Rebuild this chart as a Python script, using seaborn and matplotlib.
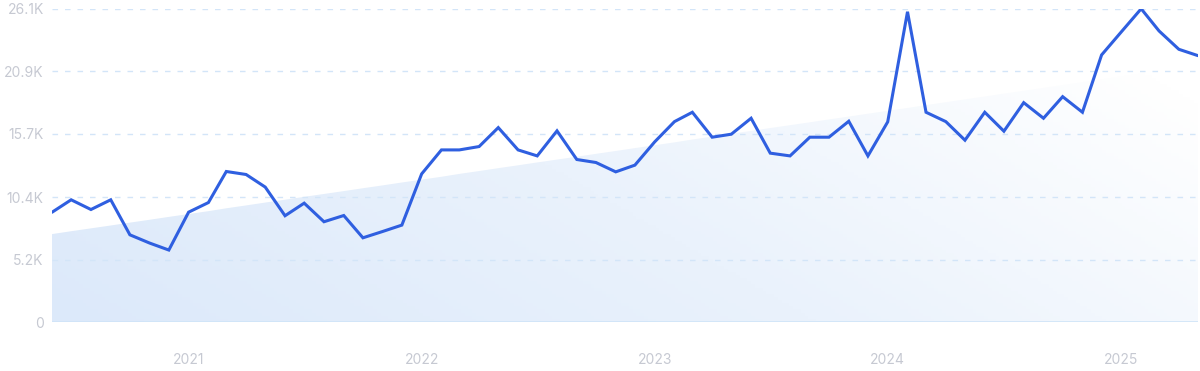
import matplotlib
matplotlib.use("Agg")
import matplotlib.dates as mdates
import matplotlib.pyplot as plt
import numpy as np
import pandas as pd
import seaborn as sns
from matplotlib.colors import LinearSegmentedColormap
from matplotlib.ticker import FixedLocator

# ── Data (monthly, Jun 2020 - May 2025) ───────────────────────────────────────
START_MONTH = "2020-06-01"
volume = [
    9150, 10190, 9380, 10190, 7270, 6580, 6000, 9160, 9960, 12550,
    12300, 11250, 8860, 9910, 8360, 8880, 7020, 7550, 8080, 12350,
    14350, 14350, 14630, 16210, 14350, 13850, 15940, 13550, 13300, 12520,
    13080, 15020, 16710, 17490, 15410, 15660, 16990, 14080, 13850, 15410,
    15410, 16740, 13850, 16690, 25870, 17490, 16710, 15160, 17490, 15910,
    18290, 16990, 18790, 17490, 22270, 24200, 26120, 24270, 22740, 22210,
]
trend_start = 7330
trend_end = 21430

y_ticks = [0, 5200, 10400, 15700, 20900, 26100]
y_labels = ["0", "5.2K", "10.4K", "15.7K", "20.9K", "26.1K"]
year_ticks = ["2021", "2022", "2023", "2024", "2025"]

LINE_COLOR = "#2f5fe0"
LABEL_COLOR = "#c6c9d2"
GRID_COLOR = "#d3e5f8"

dates = pd.date_range(START_MONTH, periods=len(volume), freq="MS")
df = pd.DataFrame({"date": dates, "volume": volume})
trend = np.linspace(trend_start, trend_end, len(volume))

sns.set_theme(style="white")
plt.rcParams["font.family"] = ["Inter", "DejaVu Sans"]

fig = plt.figure(figsize=(12, 3.71), dpi=100)
ax = fig.add_axes([52 / 1200, 1 - 322 / 371, 1146 / 1200, 313 / 371])

# ── Gradient trend area ───────────────────────────────────────────────────────
x_num = mdates.date2num(dates)
poly = ax.fill_between(x_num, 0, trend, color="none", lw=0)
cmap = LinearSegmentedColormap.from_list("fade", ["#dce9fa", "#eaf2fc", "#ffffff"])
gx, gy = np.meshgrid(np.linspace(0, 1, 300), np.linspace(0, 1, 100))
grad = 0.75 * gx + 0.35 * (1 - gy)
img = ax.imshow(
    grad, cmap=cmap, vmin=0, vmax=1, aspect="auto", origin="upper",
    extent=[x_num[0], x_num[-1], 0, 26100], zorder=1,
)
img.set_clip_path(poly.get_paths()[0], transform=ax.transData)

# ── Grid lines (drawn over the area) ──────────────────────────────────────────
for yv in y_ticks[1:]:
    ax.axhline(yv, color=GRID_COLOR, lw=1, ls=(0, (4, 5)), zorder=2)
ax.axhline(0, color="#cfe4f8", lw=1.2, zorder=2)

# ── Main line ─────────────────────────────────────────────────────────────────
sns.lineplot(data=df, x="date", y="volume", ax=ax, color=LINE_COLOR,
             lw=2.2, zorder=3, solid_joinstyle="miter")

ax.set_xlim(dates[0], dates[-1])
ax.set_ylim(0, 26100)
ax.set_xlabel("")
ax.set_ylabel("")

ax.yaxis.set_major_locator(FixedLocator(y_ticks))
ax.set_yticklabels(y_labels)
year_pos = [pd.Timestamp(f"{y}-01-01") for y in year_ticks]
ax.set_xticks(year_pos)
ax.set_xticklabels(year_ticks)
ax.tick_params(axis="y", length=0, pad=6, labelsize=10, labelcolor=LABEL_COLOR)
ax.tick_params(axis="x", length=0, pad=22, labelsize=10, labelcolor=LABEL_COLOR)

for spine in ax.spines.values():
    spine.set_visible(False)
ax.grid(False)

fig.savefig("out.png", dpi=100)
